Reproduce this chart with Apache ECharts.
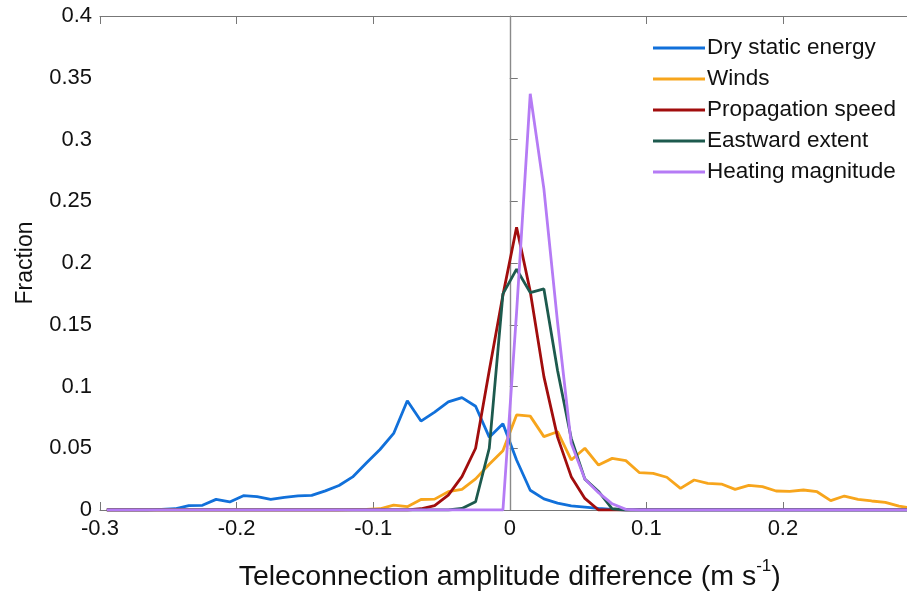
<!DOCTYPE html>
<html>
<head>
<meta charset="utf-8">
<script src="https://cdn.jsdelivr.net/npm/echarts@6/dist/echarts.min.js"></script>
<style>
html,body{margin:0;padding:0;background:#fff;}
#chart{width:907px;height:592px;}
</style>
</head>
<body>
<div id="chart"></div>
<script>
// Bin centres (m s^-1)
const binCenters = [-0.295,-0.285,-0.275,-0.265,-0.255,-0.245,-0.235,-0.225,-0.215,-0.205,
  -0.195,-0.185,-0.175,-0.165,-0.155,-0.145,-0.135,-0.125,-0.115,-0.105,
  -0.095,-0.085,-0.075,-0.065,-0.055,-0.045,-0.035,-0.025,-0.015,-0.005,
  0.005,0.015,0.025,0.035,0.045,0.055,0.065,0.075,0.085,0.095,
  0.105,0.115,0.125,0.135,0.145,0.155,0.165,0.175,0.185,0.195,
  0.205,0.215,0.225,0.235,0.245,0.255,0.265,0.275,0.285,0.295];

const seriesNames = ["Dry static energy","Winds","Propagation speed","Eastward extent","Heating magnitude"];

const dryStaticEnergy = [0,0,0,0,0.0005,0.001,0.0035,0.0038,0.0086,0.0065,
  0.0116,0.0108,0.0086,0.0103,0.0114,0.0118,0.0155,0.0198,0.0268,0.038,
  0.049,0.062,0.0885,0.072,0.0793,0.0875,0.091,0.084,0.059,0.0698,
  0.0405,0.016,0.009,0.0055,0.0033,0.0024,0.0013,0.0005,0,0,
  0,0,0,0,0,0,0,0,0,0,
  0,0,0,0,0,0,0,0,0,0];

const winds = [0,0,0,0,0,0,0,0,0,0,
  0,0,0,0,0,0,0,0,0.0003,0.0005,
  0.001,0.004,0.0027,0.0085,0.0088,0.0148,0.0167,0.0252,0.037,0.048,
  0.077,0.076,0.0594,0.0634,0.0405,0.050,0.0364,0.0418,0.040,0.0302,
  0.0297,0.0265,0.0175,0.0243,0.0216,0.021,0.0167,0.020,0.0189,0.0154,
  0.0151,0.0162,0.0148,0.0076,0.0113,0.0086,0.0073,0.0062,0.0032,0.0014];

const propagationSpeed = [0,0,0,0,0,0,0,0,0,0,
  0,0,0,0,0,0,0,0,0,0,
  0,0,0,0.001,0.0035,0.012,0.027,0.050,0.113,0.174,
  0.229,0.177,0.108,0.059,0.027,0.0094,0,0,0,0,
  0,0,0,0,0,0,0,0,0,0,
  0,0,0,0,0,0,0,0,0,0];

const eastwardExtent = [0,0,0,0,0,0,0,0,0,0,
  0,0,0,0,0,0,0,0,0,0,
  0,0,0,0,0,0,0.0013,0.0067,0.05,0.175,
  0.195,0.176,0.179,0.113,0.058,0.025,0.015,0.001,0,0,
  0,0,0,0,0,0,0,0,0,0,
  0,0,0,0,0,0,0,0,0,0];

const heatingMagnitude = [0,0,0,0,0,0,0,0,0,0,
  0,0,0,0,0,0,0,0,0,0,
  0,0,0,0,0,0,0,0,0,0,
  0.16,0.337,0.26,0.152,0.054,0.025,0.014,0.005,0.0005,0,
  0,0,0,0,0,0,0,0,0,0,
  0,0,0,0,0,0,0,0,0,0];

const allValues = [dryStaticEnergy, winds, propagationSpeed, eastwardExtent, heatingMagnitude];
const colors = ["#1170DA","#F7A51C","#A10D0D","#1D5A4E","#B57BF5"];

const FONT = "Liberation Sans, Arial, Helvetica, sans-serif";

const chart = echarts.init(document.getElementById('chart'), null, {renderer:'canvas'});

const series = allValues.map((vals, i) => ({
  name: seriesNames[i],
  type: 'line',
  data: binCenters.map((x, j) => [x, vals[j]]),
  showSymbol: false,
  symbol: 'none',
  lineStyle: {width: 2.8, color: colors[i]},
  itemStyle: {color: colors[i]},
  z: 3 + i,
  animation: false
}));

series.push({
  type: 'line',
  data: [],
  markLine: {
    silent: true,
    symbol: 'none',
    label: {show: false},
    lineStyle: {color: '#8a8a8a', width: 1.2, type: 'solid'},
    data: [{xAxis: 0}]
  },
  z: 2,
  animation: false
});

const axisCommon = {
  axisLine: {show: true, lineStyle: {color: '#777', width: 1.2}},
  axisTick: {show: true, inside: true, length: 8, lineStyle: {color: '#777', width: 1}},
  splitLine: {show: false}
};

chart.setOption({
  animation: false,
  color: colors,
  grid: {left: 100, top: 16, right: -12.5, bottom: 82, containLabel: false, outerBoundsMode: 'none'},
  legend: {
    orient: 'vertical',
    left: 648,
    top: 31,
    itemWidth: 52,
    itemHeight: 3,
    itemGap: 7,
    icon: 'rect',
    data: seriesNames,
    textStyle: {fontFamily: FONT, fontSize: 22.5, color: '#111', lineHeight: 24, padding: [0,0,0,-3]},
    selectedMode: false
  },
  xAxis: [{
    type: 'value', min: -0.3, max: 0.3, interval: 0.1, position: 'bottom',
    ...axisCommon,
    axisLabel: {
      fontFamily: FONT, fontSize: 22, color: '#111', margin: 8,
      formatter: v => (Math.abs(v - 0.3) < 1e-9 ? '' : String(Math.round(v*10)/10))
    },
    name: '{a|Teleconnection amplitude difference (m s}{s|-1}{a|)}',
    nameLocation: 'middle',
    nameGap: 48,
    nameTextStyle: {
      rich: {
        a: {fontFamily: FONT, fontSize: 28.5, color: '#111', lineHeight: 34, verticalAlign: 'bottom'},
        s: {fontFamily: FONT, fontSize: 17, color: '#111', lineHeight: 34, verticalAlign: 'top'}
      }
    }
  },{
    type: 'value', min: -0.3, max: 0.3, interval: 0.1, position: 'top',
    ...axisCommon,
    axisLabel: {show: false}
  }],
  yAxis: {
    type: 'value', min: 0, max: 0.4, interval: 0.05,
    ...axisCommon,
    axisLabel: {fontFamily: FONT, fontSize: 22, color: '#111', margin: 8},
    name: 'Fraction',
    nameLocation: 'middle',
    nameGap: 63,
    nameTextStyle: {fontFamily: FONT, fontSize: 23, color: '#111'}
  },
  series: series
});
</script>
</body>
</html>
